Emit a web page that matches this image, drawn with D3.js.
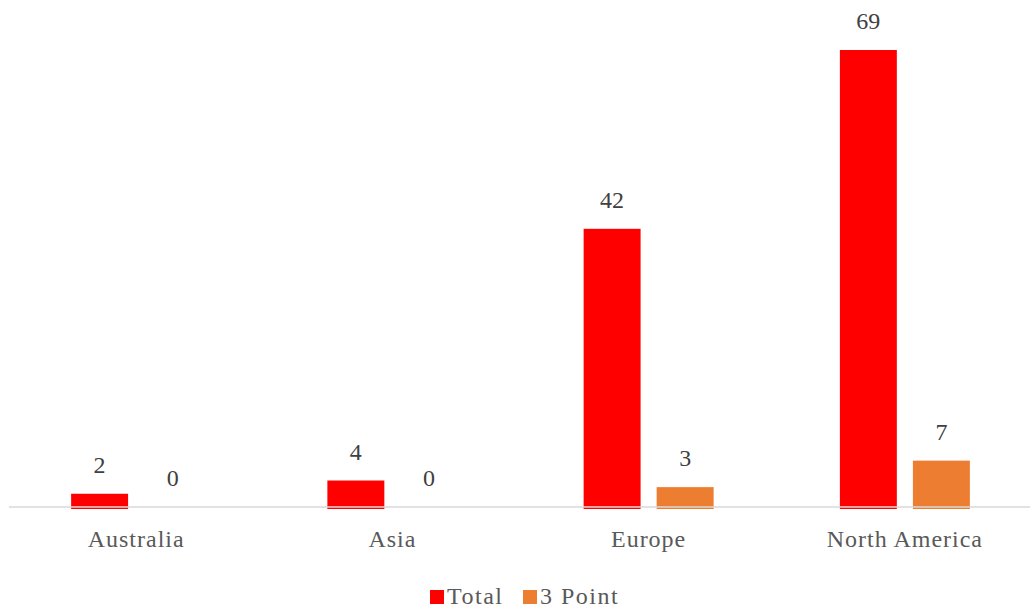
<!DOCTYPE html>
<html><head><meta charset="utf-8">
<script src="https://cdn.jsdelivr.net/npm/d3@7"></script>
<style>body{margin:0;background:#fff} text{font-family:"Liberation Serif","Times New Roman",Times,"DejaVu Serif",serif;}</style>
</head><body>
<svg id="c" width="1030" height="610"></svg>
<script>
const categories = ["Australia","Asia","Europe","North America"];
const seriesNames = ["Total","3 Point"];
const totalValues = [2,4,42,69];
const threePointValues = [0,0,3,7];
const colors = ["#ff0000","#ed7d31"];

const svg = d3.select("#c");
const baseY = 507;
const x = d3.scaleBand().domain(categories).range([8,1033]).paddingInner(0).paddingOuter(0);
const y = d3.scaleLinear().domain([0,69]).range([baseY,50]);
const xs = d3.scaleBand().domain(seriesNames).range([0,130]).paddingInner(0.22);

const data = [totalValues, threePointValues];
data.forEach((vals,si)=>{
  const g = svg.append("g");
  categories.forEach((c,i)=>{
    const x0 = x(c)+x.bandwidth()/2-65+xs(seriesNames[si]);
    const v = vals[i];
    if(v>0){
      g.append("rect").attr("x",x0).attr("y",y(v)).attr("width",xs.bandwidth())
        .attr("height",baseY-y(v)+2).attr("fill",colors[si]);
    }
    g.append("text").attr("x",x0+xs.bandwidth()/2).attr("y",y(v)-21)
      .attr("text-anchor","middle").attr("font-size",24)
      .attr("fill","#404040").text(v);
  });
});

svg.append("line").attr("x1",9).attr("x2",1030).attr("y1",baseY).attr("y2",baseY)
  .attr("stroke","#d9d9d9").attr("stroke-width",1.5);

const xAxis = d3.axisBottom(x).tickSize(0).tickPadding(23);
const ax = svg.append("g").attr("transform",`translate(0,${baseY})`).call(xAxis);
ax.select(".domain").remove();
ax.attr("font-family",null);
ax.selectAll("text").attr("font-size",24).attr("fill","#595959").attr("letter-spacing","1px");

const leg = svg.append("g");
const legItems = [{n:"Total",x:430},{n:"3 Point",x:523}];
legItems.forEach((d,i)=>{
  leg.append("rect").attr("x",d.x).attr("y",590).attr("width",14).attr("height",14).attr("fill",colors[i]);
  leg.append("text").attr("x",d.x+17).attr("y",604).attr("font-size",24)
    .attr("fill","#595959").attr("letter-spacing","1.5px").text(d.n);
});
</script>
</body></html>
